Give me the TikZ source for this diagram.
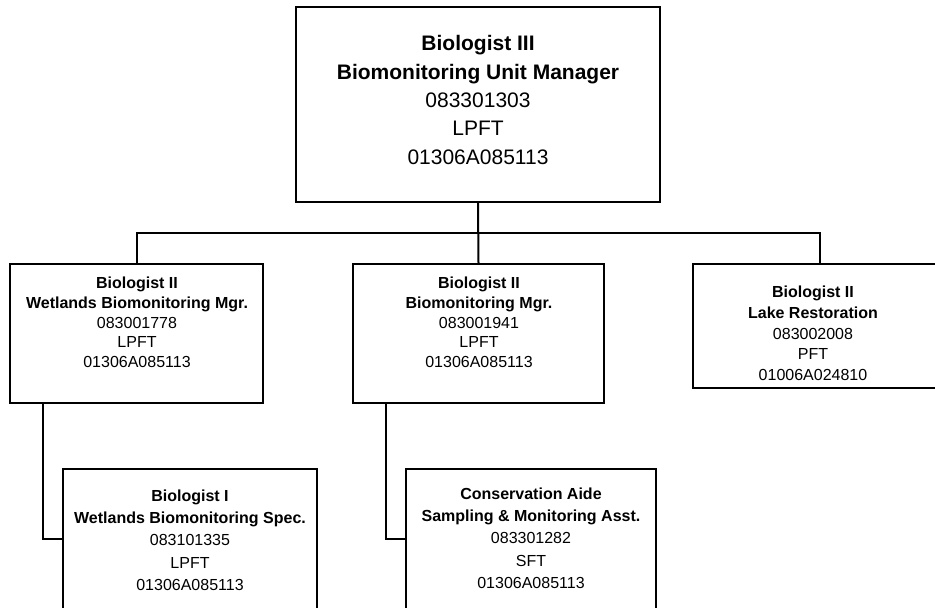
\documentclass[tikz,border=0pt]{standalone}
\usepackage{fontspec}
\setmainfont{Liberation Sans}
\begin{document}
\begin{tikzpicture}[x=1pt,y=-1pt,
  box/.style={draw=black,line width=2pt,rectangle,inner sep=0pt},
  wire/.style={draw=black,line width=2pt},
  bigtext/.style={align=center,inner sep=0pt,font=\fontsize{21}{28.3}\selectfont},
  midtext/.style={align=center,inner sep=0pt,font=\fontsize{16}{19.7}\selectfont},
  lowtext/.style={align=center,inner sep=0pt,font=\fontsize{16}{22.3}\selectfont}]
\useasboundingbox (0,0) rectangle (935,608);
\clip (0,0) rectangle (935,608);

% position boxes (corners in picture units, y downwards)
\node[box,minimum width=364pt,minimum height=195pt] (mgr) at (478,104.5) {};
\node[box,minimum width=253pt,minimum height=139pt] (wet) at (136.5,333.5) {};
\node[box,minimum width=251pt,minimum height=139pt] (bio) at (478.5,333.5) {};
\node[box,minimum width=262pt,minimum height=124pt] (lake) at (824,326) {};
\node[box,minimum width=254pt,minimum height=171pt] (spec) at (190,554.5) {};
\node[box,minimum width=250pt,minimum height=171pt] (aide) at (531,554.5) {};

% titles
\node[bigtext] (mgrT) at (478,100) {\textbf{Biologist III}\\\textbf{Biomonitoring Unit Manager}\\083301303\\LPFT\\01306A085113};
\node[midtext] (wetT) at (137,322.5) {\textbf{Biologist II}\\\textbf{Wetlands Biomonitoring Mgr.}\\083001778\\LPFT\\01306A085113};
\node[midtext] (bioT) at (479,322.5) {\textbf{Biologist II}\\\textbf{Biomonitoring Mgr.}\\083001941\\LPFT\\01306A085113};
\node[midtext,font=\fontsize{16}{20.7}\selectfont] (lakeT) at (813,333.5) {\textbf{Biologist II}\\\textbf{Lake Restoration}\\083002008\\PFT\\01006A024810};
\node[lowtext] (specT) at (190,540) {\textbf{Biologist I}\\\textbf{Wetlands Biomonitoring Spec.}\\083101335\\LPFT\\01306A085113};
\node[lowtext] (aideT) at (531,538) {\textbf{Conservation Aide}\\\textbf{Sampling \& Monitoring Asst.}\\083301282\\SFT\\01306A085113};

% reporting lines
\coordinate (bus) at (478,233);
\draw[wire] (mgr.south) -- (bio.north);
\draw[wire] (wet.north -| 137,0) |- (bus) -| (lake.north -| 820,0);
\draw[wire] (wet.south -| 43,0) |- (spec.west |- 0,539);
\draw[wire] (bio.south -| 386,0) |- (aide.west |- 0,539);
\end{tikzpicture}
\end{document}
